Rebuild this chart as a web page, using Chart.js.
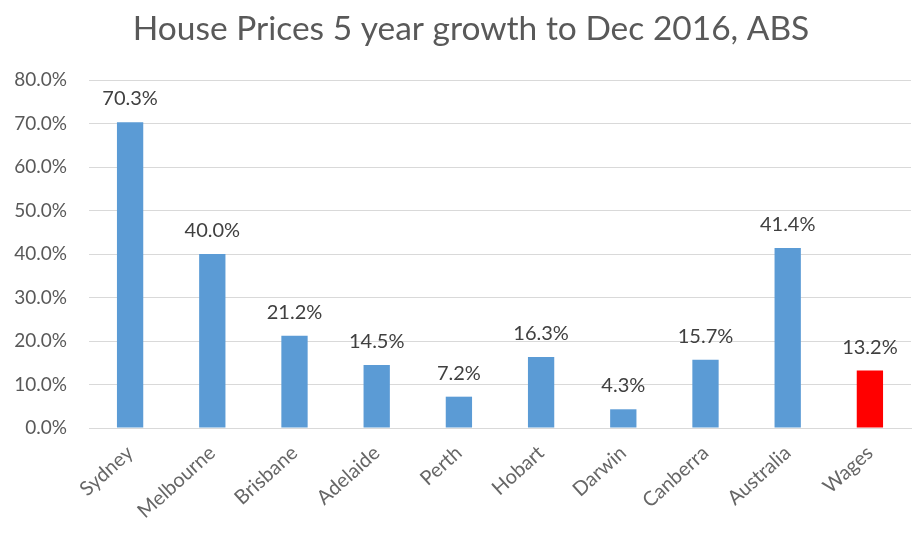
<!DOCTYPE html>
<html><head><meta charset="utf-8">
<script src="https://cdn.jsdelivr.net/npm/chart.js@4/dist/chart.umd.min.js"></script>
<style>html,body{margin:0;padding:0;background:#fff}#wrap{width:924px;height:535px}</style>
</head><body><div id="wrap"><canvas id="c" width="924" height="535"></canvas></div>
<script>
const categories = ["Sydney","Melbourne","Brisbane","Adelaide","Perth","Hobart","Darwin","Canberra","Australia","Wages"];
const growth = [70.3, 40.0, 21.2, 14.5, 7.2, 16.3, 4.3, 15.7, 41.4, 13.2];
const barColors = ["#5B9BD5","#5B9BD5","#5B9BD5","#5B9BD5","#5B9BD5","#5B9BD5","#5B9BD5","#5B9BD5","#5B9BD5","#FF0000"];
const yTicks = [0,10,20,30,40,50,60,70,80];
const titleText = 'House Prices 5 year growth to Dec 2016, ABS';
const FONT = 'Lato, "Open Sans", sans-serif';

const labelPlugin = {
  id: 'valueLabels',
  afterDatasetsDraw(chart) {
    const ctx = chart.ctx;
    const meta = chart.getDatasetMeta(0);
    ctx.save();
    ctx.font = '20px ' + FONT;
    ctx.fillStyle = '#404040';
    ctx.textAlign = 'center';
    ctx.textBaseline = 'alphabetic';
    meta.data.forEach((bar, i) => {
      ctx.fillText(growth[i].toFixed(1) + '%', bar.x, bar.y - 17);
    });
    ctx.restore();
  }
};

const titlePlugin = {
  id: 'centeredTitle',
  afterDraw(chart) {
    const ctx = chart.ctx;
    ctx.save();
    ctx.font = '33.5px ' + FONT;
    ctx.fillStyle = '#595959';
    ctx.textAlign = 'center';
    ctx.textBaseline = 'alphabetic';
    ctx.fillText(titleText, 471, 40);
    ctx.restore();
  }
};

new Chart(document.getElementById('c'), {
  type: 'bar',
  data: {
    labels: categories,
    datasets: [{ data: growth, backgroundColor: barColors, barPercentage: 0.32, categoryPercentage: 1.0 }]
  },
  options: {
    responsive: false,
    animation: false,
    layout: { padding: { left: 0, right: 13, top: 80, bottom: 0 } },
    plugins: {
      legend: { display: false },
      tooltip: { enabled: false },
      title: { display: false }
    },
    scales: {
      y: {
        min: 0, max: 80,
        afterBuildTicks(axis) { axis.ticks = yTicks.map(v => ({ value: v })); },
        afterFit(axis) { axis.width = 89; },
        ticks: {
          callback: v => v.toFixed(1) + '%',
          color: '#595959',
          font: { family: FONT, size: 19 },
          padding: 22
        },
        grid: { color: '#D9D9D9', lineWidth: 1, drawTicks: false },
        border: { display: false }
      },
      x: {
        afterFit(axis) { axis.height = 107; },
        ticks: {
          color: '#666666',
          font: { family: FONT, size: 20 },
          minRotation: 42, maxRotation: 42,
          padding: 13
        },
        grid: { display: false, drawTicks: false },
        border: { color: '#D9D9D9' }
      }
    }
  },
  plugins: [labelPlugin, titlePlugin]
});
</script>
</body></html>
